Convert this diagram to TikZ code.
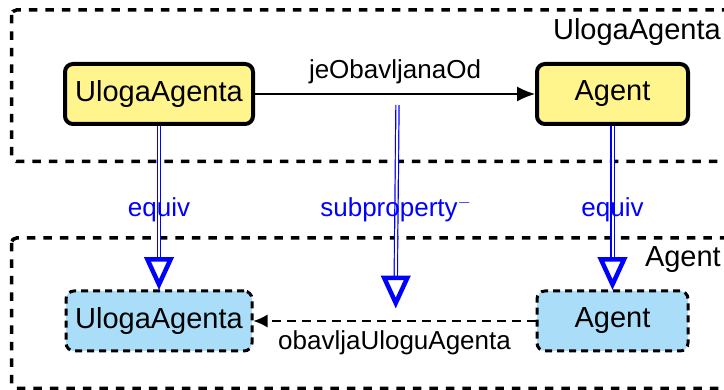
\documentclass[tikz,border=0pt]{standalone}
\usepackage{fontspec}
\setmainfont{Liberation Sans}
\usetikzlibrary{arrows.meta,calc}
\definecolor{nodeyellow}{RGB}{255,245,140}
\definecolor{nodeblue}{RGB}{170,222,248}
\newcommand{\nodefont}{\fontsize{29}{34}\selectfont}
\newcommand{\edgefont}{\fontsize{26}{30}\selectfont}
\begin{document}
\begin{tikzpicture}[x=1pt,y=-1pt,
  container/.style={draw, line width=3.5pt, dash pattern=on 8.5pt off 8pt, rounded corners=5pt},
  contlabel/.style={anchor=base east, inner sep=0pt, font=\nodefont},
  yclass/.style={draw, line width=4pt, fill=nodeyellow, rounded corners=8pt,
    minimum height=60pt, inner sep=0pt, font=\nodefont},
  bclass/.style={draw, line width=3pt, dash pattern=on 7pt off 5pt, fill=nodeblue,
    rounded corners=8pt, minimum height=60pt, inner sep=0pt, font=\nodefont},
  dbl/.style={draw=blue, double=white, line width=1.2pt, double distance=2pt},
  tri/.style={draw=blue, fill=white, line width=4.5pt, line join=miter},
  blabel/.style={anchor=base, inner sep=0pt, text=blue, font=\edgefont},
  klabel/.style={anchor=base, inner sep=0pt, font=\edgefont},
  objarrow/.style={draw, line width=1.3pt, -{Latex[length=18pt,width=15pt]}},
  dasharrow/.style={draw, line width=1.3pt, dash pattern=on 9pt off 6pt, -{Latex[length=14pt,width=13pt]}}
]
\useasboundingbox (0,0) rectangle (724,390);

% containers
\draw[container] (11.5,10) rectangle (770,161.5);
\draw[container] (11.5,238) rectangle (770,388.5);
\node[contlabel] (lab1) at (721,40) {UlogaAgenta};
\node[contlabel] (lab2) at (721,267) {Agent};

% classes
\node[yclass, minimum width=188pt] (ua) at (159,94) {UlogaAgenta};
\node[yclass, minimum width=151pt] (ag) at (612.5,94) {Agent};
\node[bclass, minimum width=186pt] (uab) at (159,321) {UlogaAgenta};
\node[bclass, minimum width=151pt] (agb) at (612.5,321) {Agent};

% object properties
\draw[objarrow] (ua.east) -- (ag.west)
  node[klabel, pos=0.5, yshift=15pt] (l1) {jeObavljanaOd};
\draw[dasharrow] (agb.west) -- (uab.east)
  node[klabel, pos=0.5, yshift=-29pt] (l2) {obavljaUloguAgenta};

% coordinates for the subproperty link
\coordinate (sp) at ($(ua.east)!0.5!(ag.west)$);
\coordinate (spstart) at ([xshift=2.5pt, yshift=-11pt]sp);
\coordinate (sptip) at ($([xshift=2.5pt]uab.east)!0.5!(agb.west)+(0,-18)$);

% equivalence links
\coordinate (t1) at ([yshift=5pt]uab.north);
\coordinate (t2) at ([yshift=5pt]agb.north);
\draw[dbl] (ua.south) -- ($(t1)+(0,-25)$);
\draw[tri] (t1) -- ++(-11.5,-25) -- ++(23,0) -- cycle;
\draw[dbl] (ag.south) -- ($(t2)+(0,-25)$);
\draw[tri] (t2) -- ++(-11.5,-25) -- ++(23,0) -- cycle;
\draw[dbl] (spstart) -- ($(sptip)+(0,-25)$);
\draw[tri] (sptip) -- ++(-11.5,-25) -- ++(23,0) -- cycle;

\node[blabel] (e1) at (159,217) {equiv};
\node[blabel] (e2) at (612.5,217) {equiv};
\node[blabel] (e3) at (396,217) {subproperty$^{-}$};
\end{tikzpicture}
\end{document}
